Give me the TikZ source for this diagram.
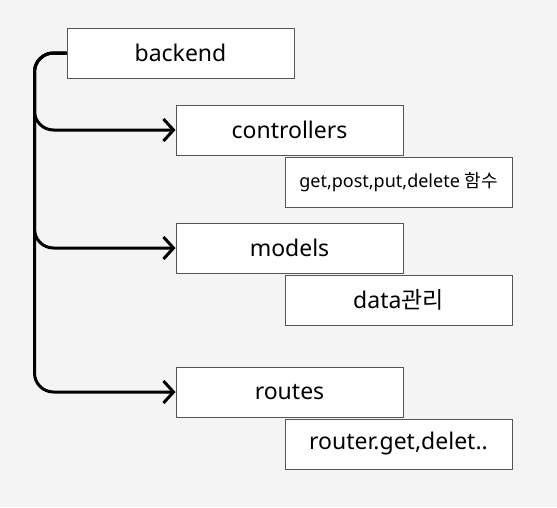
\documentclass[tikz,border=0pt]{standalone}
\usepackage{fontspec}
\setmainfont{Noto Sans}
\newfontfamily\kr{Noto Sans CJK KR}
\usetikzlibrary{positioning,arrows.meta}

\definecolor{fond}{HTML}{F4F4F4}
\definecolor{bord}{HTML}{555555}

\tikzset{
  dossier/.style={draw=bord, line width=1pt, fill=white, minimum width=227pt,
    minimum height=50pt, inner sep=0pt, font=\fontsize{23}{25}\selectfont},
  detail/.style={dossier, font=\fontsize{#1}{#1}\selectfont},
  lien/.style={line width=3pt, rounded corners=19pt,
    -{Straight Barb[length=10pt,width=22pt]}}
}

\begin{document}
\begin{tikzpicture}[x=1pt, y=-1pt] % 1 unité = 1 pixel de l'image
  % Fond
  \fill[fond] (0,0) rectangle (557,507);

  % Dossier racine
  \node[dossier] (backend) at (180.5,53) {backend};

  % Sous-dossiers et leur contenu
  \foreach \nom/\y/\taille/\txt in {controllers/130/18/{get,post,put,delete {\kr 함수}},
                                   models/248/23/{data{\kr 관리}},
                                   routes/392/23/{router.get,delet..}} {
    \node[dossier] (\nom) at (289.5,\y) {\nom};
    \node[detail=\taille, below=1pt of \nom.south, anchor=north, xshift=109pt] (\nom-detail) {\txt};
  }

  % Liens
  \foreach \nom in {controllers,models,routes}
    \draw[lien] (backend.west) -- ++(-32,0) |- (\nom.west);
\end{tikzpicture}
\end{document}
